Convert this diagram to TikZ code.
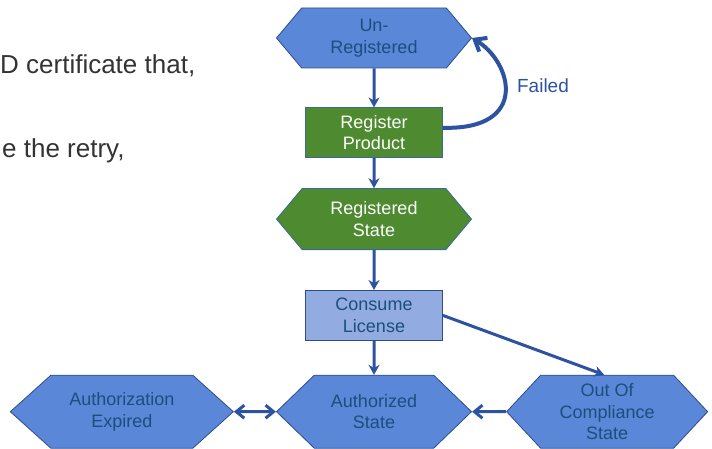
\documentclass[tikz,border=0pt]{standalone}
\usepackage{fontspec}
\setmainfont{Liberation Sans}
\usepackage{xcolor}
\usetikzlibrary{arrows.meta, positioning, shapes.symbols}
\definecolor{stateblue}{HTML}{5A87D8}
\definecolor{stateedge}{HTML}{2E4C8C}
\definecolor{stepgreen}{HTML}{4E8A2F}
\definecolor{greenedge}{HTML}{3A6A98}
\definecolor{lightblue}{HTML}{92ABE0}
\definecolor{statetext}{HTML}{1B4F7C}
\definecolor{flowblue}{HTML}{2C52A0}
\definecolor{bodytext}{HTML}{333333}

\tikzset{
  hexbase/.style={shape=signal, signal to=west and east, line width=0.8pt,
    inner sep=0pt, align=center, font=\fontsize{18}{21.5}\selectfont},
  statehex/.style={hexbase, draw=stateedge, fill=stateblue, text=statetext},
  greenhex/.style={hexbase, draw=greenedge, fill=stepgreen, text=white},
  stepbox/.style={rectangle, line width=0.8pt, minimum width=137pt, minimum height=50pt,
    inner sep=0pt, align=center, font=\fontsize{18}{21.5}\selectfont},
  flow/.style={-{Stealth[length=10pt,width=11pt]}, draw=flowblue, line width=3pt},
  barb/.style={draw=flowblue, line width=3pt},
}

\begin{document}
\begin{tikzpicture}[x=1pt, y=-1pt, node distance=30pt]
\useasboundingbox (0,0) rectangle (712,449);

% Text on the left
\node (cert) [anchor=base west, inner sep=0pt, text=bodytext, font=\fontsize{26}{30}\selectfont] at (0,74) {D certificate that,};
\node (retry) [anchor=base west, inner sep=0pt, text=bodytext, font=\fontsize{26}{30}\selectfont] at (2,158) {e the retry,};

% Registration steps
\node (unreg) [statehex, minimum width=195pt, minimum height=60pt, signal pointer angle=100] at (374,38) {Un-\\Registered};
\node (regprod) [below=39pt of unreg, stepbox, draw=greenedge, fill=stepgreen, text=white] {Register\\Product};
\node (regstate) [below=30pt of regprod, greenhex, minimum width=195pt, minimum height=61pt, signal pointer angle=100] {Registered\\State};
\node (consume) [below=40pt of regstate, stepbox, draw=stateedge, fill=lightblue, text=statetext] {Consume\\License};

% Authorization states
\node (authd) [below=34pt of consume, statehex, minimum width=195pt, minimum height=73pt, signal pointer angle=88] {Authorized\\State};
\node (authexp) [left=42pt of authd, statehex, minimum width=223pt, minimum height=73pt, signal pointer angle=84] {Authorization\\Expired};
\node (ooc) [right=34pt of authd, statehex, minimum width=201pt, minimum height=73pt, signal pointer angle=94] {Out Of\\Compliance\\State};

\node (failed) [text=flowblue, font=\fontsize{19}{22}\selectfont] at (543,86) {Failed};

% Arrows
\draw[flow] (unreg) -- (regprod);
\draw[flow] (regprod) -- (regstate);
\draw[flow] (regstate) -- (consume);
\draw[flow] (consume) -- (authd);
\draw[flow] (consume.east) -- ([xshift=-3pt]ooc.north);
\draw[barb, -{Straight Barb[length=8pt,width=13pt]}] (ooc) -- (authd);
\draw[barb, {Straight Barb[length=8pt,width=13pt]}-{Straight Barb[length=8pt,width=13pt]}] (authexp) -- (authd);

% Retry loop
\draw[barb, line width=4pt, -{Straight Barb[length=10pt,width=16pt]}] ([yshift=5pt]regprod.east) .. controls (530,130) and (512,62) .. (unreg.east);
\end{tikzpicture}
\end{document}
